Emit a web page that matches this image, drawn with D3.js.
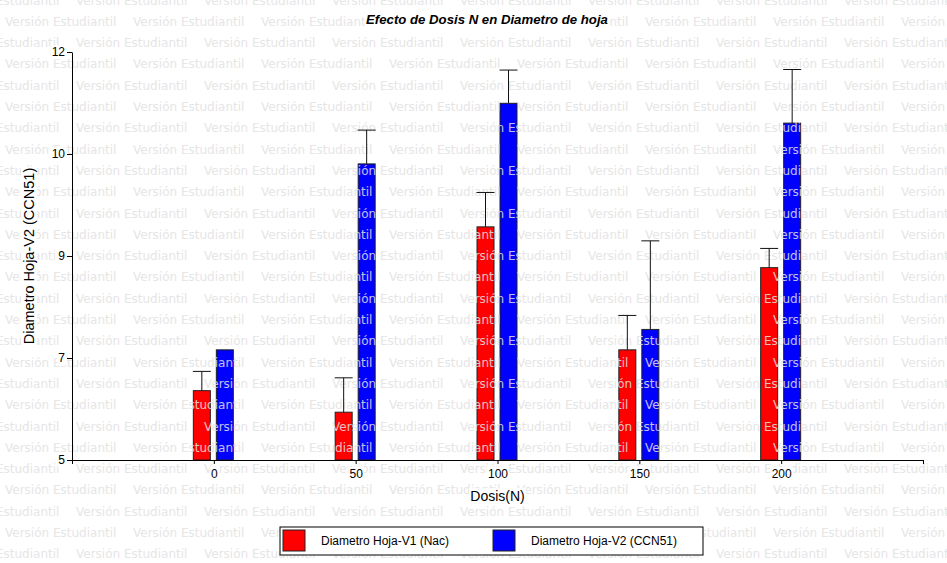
<!DOCTYPE html>
<html>
<head>
<meta charset="utf-8">
<script src="https://cdn.jsdelivr.net/npm/d3@7"></script>
<style>
  body { margin: 0; background: #fff; }
  svg { display: block; font-family: "Liberation Sans", Arial, sans-serif; }
</style>
</head>
<body>
<svg id="chart" width="947" height="563"></svg>
<script>
// values
const dosis = [0, 50, 100, 150, 200];
const nacValues = [6.19, 5.82, 9.00, 6.89, 8.30];
const nacErrors = [0.33, 0.59, 0.59, 0.59, 0.33];
const ccnValues = [6.89, 10.08, 11.12, 7.24, 10.78];
const ccnErrors = [null, 0.58, 0.57, 1.52, 0.92];
const xTicks = [-50, 0, 50, 100, 150, 200, 250];
const xTickLabels = ["", "0", "50", "100", "150", "200", ""];
const yTicks = [5, 6.75, 8.5, 10.25, 12];
const yTickLabels = ["5", "7", "9", "10", "12"];
const seriesNames = ["Diametro Hoja-V1 (Nac)", "Diametro Hoja-V2 (CCN51)"];
const seriesColors = ["#ff0000", "#0000ff"];

const svg = d3.select("#chart");
const width = 947, height = 563;

const x = d3.scaleLinear().domain([-50, 250]).range([72, 923]);
const y = d3.scaleLinear().domain([5, 12]).range([460, 52]);
const barW = 17;
const offsets = [-20.5, 2.5];

const series = [
  { name: seriesNames[0], color: seriesColors[0], values: nacValues, errors: nacErrors, off: offsets[0] },
  { name: seriesNames[1], color: seriesColors[1], values: ccnValues, errors: ccnErrors, off: offsets[1] }
];

// white box behind a text so the watermark does not show through
function addBg (sel) {
  sel.each(function () {
    const txt = this.textContent;
    if (!txt) return;
    const b = this.getBBox();
    d3.select(this.parentNode).insert("rect", () => this)
      .attr("x", b.x - 1).attr("y", b.y)
      .attr("width", b.width + 2).attr("height", b.height)
      .attr("fill", "#fff")
      .attr("transform", d3.select(this).attr("transform"));
  });
}

// bars
const bars = svg.append("g").attr("class", "bars");
series.forEach(s => {
  bars.selectAll(null)
    .data(dosis)
    .enter().append("rect")
      .attr("x", (d) => x(d) + s.off)
      .attr("y", (d, i) => y(s.values[i]))
      .attr("width", barW)
      .attr("height", (d, i) => y(5) - y(s.values[i]))
      .attr("fill", s.color)
      .attr("stroke", "#222")
      .attr("stroke-width", 1);
});

// watermark
const wm = svg.append("g").attr("class", "watermark")
    .attr("font-family", "DejaVu Sans, sans-serif")
    .attr("font-size", "12px")
    .attr("fill", "#e2e2e2")
    .attr("opacity", 0.85)
    .style("pointer-events", "none");
const rowStep = 21.3, period = 128;
for (let r = 0; r * rowStep < height + 10; r++) {
  const cy = r * rowStep;
  const start = (r % 2 === 0) ? -52 : 5;
  for (let tx = start; tx < width; tx += period) {
    wm.append("text")
      .attr("x", tx)
      .attr("y", cy + 4.5)
      .text("Versión Estudiantil");
  }
}

// error bars
const errs = svg.append("g").attr("class", "errors")
    .attr("stroke", "#111")
    .attr("stroke-width", 1);
series.forEach(s => {
  dosis.forEach((d, i) => {
    if (s.errors[i] == null) return;
    const cx = x(d) + s.off + barW / 2;
    const top = y(s.values[i] + s.errors[i]);
    errs.append("line")
      .attr("x1", cx).attr("x2", cx)
      .attr("y1", y(s.values[i])).attr("y2", top);
    errs.append("line")
      .attr("x1", cx - 9).attr("x2", cx + 9)
      .attr("y1", top).attr("y2", top);
  });
});

// axes
const xAxis = svg.append("g")
    .attr("transform", "translate(0," + y(5) + ")")
    .call(d3.axisBottom(x)
      .tickValues(xTicks)
      .tickFormat((d, i) => xTickLabels[i])
      .tickSizeInner(4).tickSizeOuter(0).tickPadding(5));
xAxis.selectAll("text").attr("font-size", "12px").attr("fill", "#000").attr("font-family", null);

const yAxis = svg.append("g")
    .attr("transform", "translate(" + x(-50) + ",0)")
    .call(d3.axisLeft(y)
      .tickValues(yTicks)
      .tickFormat((d, i) => yTickLabels[i])
      .tickSizeInner(5).tickSizeOuter(0).tickPadding(2));
yAxis.selectAll("text").attr("font-size", "12px").attr("fill", "#000").attr("font-family", null);
svg.selectAll(".domain, .tick line").attr("stroke", "#000");
addBg(xAxis.selectAll("text"));
addBg(yAxis.selectAll("text"));

// titles
const title = svg.append("text")
    .attr("x", 487)
    .attr("y", 24)
    .attr("text-anchor", "middle")
    .attr("font-size", "13.2px")
    .attr("font-weight", "bold")
    .attr("font-style", "italic")
    .text("Efecto de Dosis N en Diametro de hoja");

const xLabel = svg.append("text")
    .attr("x", (x(-50) + x(250)) / 2)
    .attr("y", 501)
    .attr("text-anchor", "middle")
    .attr("font-size", "14px")
    .text("Dosis(N)");

const yLabel = svg.append("text")
    .attr("transform", "translate(34," + (y(5) + y(12)) / 2 + ") rotate(-90)")
    .attr("text-anchor", "middle")
    .attr("font-size", "14.5px")
    .text("Diametro Hoja-V2 (CCN51)");

addBg(title);
addBg(xLabel);
addBg(yLabel);

// legend
const legend = svg.append("g").attr("transform", "translate(280,527)");
legend.append("rect")
    .attr("width", 423).attr("height", 28)
    .attr("fill", "#fff").attr("stroke", "#000");
const items = legend.selectAll(".legend-item")
  .data(series)
  .enter().append("g")
    .attr("class", "legend-item")
    .attr("transform", (d, i) => "translate(" + (3 + i * 210) + ",3)");
items.append("rect")
    .attr("width", 22).attr("height", 21)
    .attr("fill", (d) => d.color)
    .attr("stroke", "#222");
items.append("text")
    .attr("x", 38)
    .attr("y", 15)
    .attr("font-size", "12px")
    .text((d) => d.name);
</script>
</body>
</html>
